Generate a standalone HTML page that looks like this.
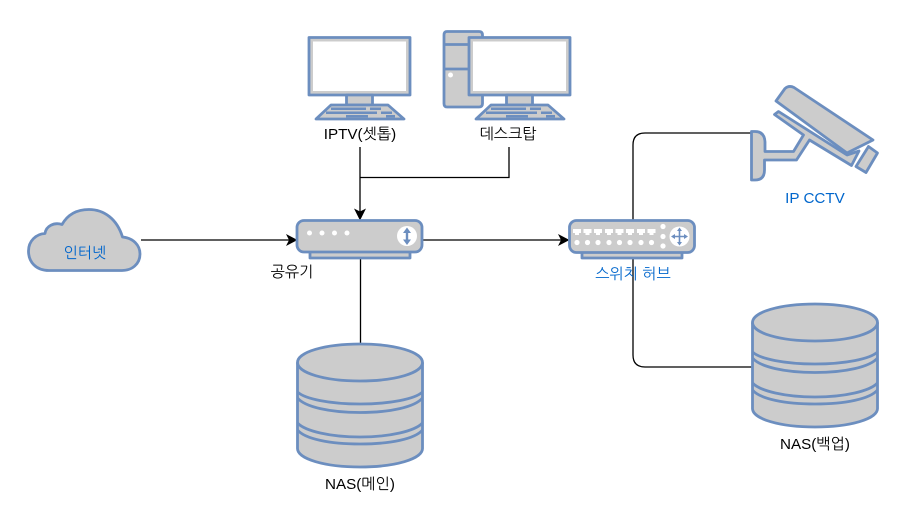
<!DOCTYPE html>
<html lang="ko"><head><meta charset="utf-8"><style>
html,body{margin:0;padding:0;background:#fff}
svg{display:block}
text{font-family:"Liberation Sans","NanumGothic","Noto Sans CJK KR",sans-serif;font-size:15.2px;text-anchor:middle;fill:#000}
.b{fill:#0066cc}
.s{fill:#ccc;stroke:#6c8ebf;stroke-width:2.8;stroke-linejoin:round}
.c{fill:none;stroke:#000;stroke-width:1.3}
.w{fill:#fff;stroke:none}
.k{fill:#6c8ebf;stroke:none}
.n{fill:none;stroke:#6c8ebf;stroke-width:2.8}
.a{fill:#000;stroke:none}
</style></head><body>
<svg width="915" height="521" viewBox="0 0 915 521" xmlns="http://www.w3.org/2000/svg">
<rect width="915" height="521" fill="#fff"/>
<path class="c" d="M141 240H290"/>
<path class="c" d="M422 240H563"/>
<path class="c" d="M360 147V214"/>
<path class="c" d="M509 147V177.500H360"/>
<path class="c" d="M360.500 258V345"/>
<path class="c" d="M633 220V145Q633 133 645 133H752"/>
<path class="c" d="M633 258V355Q633 367 645 367H752"/>
<path class="a" d="M297.500 240L286 234L289 240L286 246Z"/>
<path class="a" d="M569.500 240L558 234L561 240L558 246Z"/>
<path class="a" d="M360 220.500L354 208.500L360 211.500L366 208.500Z"/>

<!-- IPTV -->
<g id="pc1">
<rect class="s" x="309" y="37.500" width="101" height="57.500"/>
<rect class="w" x="313" y="41.500" width="93" height="49.500"/>
<rect class="s" x="346.500" y="95" width="26" height="10"/>
<path class="s" d="M331 105H388L404 119H316Z"/>
<path class="k" d="M331 107.500H366V110H331ZM370 107.500H381V110H370ZM326 111.500H377V114H326ZM381 111.500H392V114H381ZM346 115H368V117.500H346ZM386 115H395V117.500H386Z"/>
</g>

<!-- Desktop -->
<path class="s" d="M447 31.500H479Q482.500 31.500 482.500 35V103.500Q482.500 107 479 107H447Q444 107 444 103.500V35Q444 31.500 447 31.500Z"/>
<path class="n" d="M444 44.500H482M444 69H482"/>
<circle class="w" cx="450.500" cy="75" r="2.500"/>
<use href="#pc1" x="160"/>

<!-- Cloud -->
<path class="s" d="M49 270.500C36 270.500 28.500 262 28.500 251C28.500 241 36 234 45 233.500C46 226 54 222 62 224.500C68 214 77 209.500 89 209.500C104 209.500 117 219 122.500 237C133 238 140 245 140 254C140 264 132 270.500 122 270.500Z"/>

<!-- Router -->
<rect class="s" x="310" y="251" width="100" height="7"/>
<rect class="s" x="297" y="220.500" width="125" height="31.500" rx="7" ry="7"/>
<circle class="w" cx="309.500" cy="233" r="2.500"/><circle class="w" cx="322" cy="233" r="2.500"/><circle class="w" cx="334.500" cy="233" r="2.500"/><circle class="w" cx="347" cy="233" r="2.500"/>
<circle class="w" cx="407" cy="236" r="10"/>
<path class="k" d="M407 227.500L411 233H408.200V239.500H411L407 245L403 239.500H405.800V233H403Z"/>

<!-- Switch -->
<rect class="s" x="582" y="251" width="100" height="7"/>
<rect class="s" x="569.500" y="220.500" width="125" height="32" rx="7" ry="7"/>
<g class="w">
<path class="w" d="M573 229H581V233H579V235H575V233H573ZM583.500 229H591.500V233H589.500V235H585.500V233H583.500ZM594 229H602V233H600V235H596V233H594ZM605 229H613V233H611V235H607V233H605ZM615.500 229H623.500V233H621.500V235H617.500V233H615.500ZM626 229H634V233H632V235H628V233H626ZM637 229H645V233H643V235H639V233H637ZM647.500 229H655.500V233H653.500V235H649.500V233H647.500Z"/>
<circle cx="577" cy="242.500" r="2.600"/><circle cx="587.500" cy="242.500" r="2.600"/><circle cx="598" cy="242.500" r="2.600"/><circle cx="609" cy="242.500" r="2.600"/><circle cx="619.500" cy="242.500" r="2.600"/><circle cx="630" cy="242.500" r="2.600"/><circle cx="641" cy="242.500" r="2.600"/><circle cx="651.500" cy="242.500" r="2.600"/>
<circle cx="663" cy="226.500" r="2.600"/><circle cx="663" cy="236.500" r="2.600"/><circle cx="663" cy="246" r="2.600"/>
<circle cx="679.500" cy="236.500" r="10"/>
</g>
<path class="k" d="M679.500 227.500L682 231H680.300V235.700H684V234L688 236.500L684 239V237.300H680.300V242H682L679.500 245.500L677 242H678.700V237.300H675V239L671 236.500L675 234V235.700H678.700V231H677Z"/>

<!-- Camera -->
<path class="s" d="M776 101L785 88.500Q789 85 794 87.500L873 140L847 153Z"/>
<path class="s" d="M774.500 114.500L778.500 111.500L847 155L859 151L851.500 165.500L809.500 140L796.500 160H764.500V170Q764.500 180 755 180H751.500V131.500H755Q764.500 131.500 765 142V151.500H793.500L803.500 135Z"/>
<path class="s" d="M868.500 146.500L877.500 153L866 172.500L856 166.500Z"/>

<!-- NAS main -->
<g id="nas">
<path class="s" d="M297.500 362.500C297.500 352 325 344 360 344C395 344 422.500 352 422.500 362.500V448.500C422.500 459 395 467 360 467C325 467 297.500 459 297.500 448.500Z"/>
<path class="n" d="M297.500 362.500C297.500 373 325 381 360 381C395 381 422.500 373 422.500 362.500"/>
<path class="n" d="M297.500 392C305 399 330 404 360 404C390 404 415 399 422.500 392"/>
<path class="n" d="M297.500 398C305 407 330 412.500 360 412.500C390 412.500 415 407 422.500 398"/>
<path class="n" d="M297.500 423C305 431 330 437 360 437C390 437 415 431 422.500 423"/>
<path class="n" d="M297.500 430C305 439 330 444 360 444C390 444 415 439 422.500 430"/>
</g>
<use href="#nas" x="455" y="-40"/>

<!-- Labels -->
<text x="360" y="139">IPTV(셋톱)</text>
<text x="508" y="139">데스크탑</text>
<text x="85" y="258" class="b">인터넷</text>
<text x="292" y="277">공유기</text>
<text x="633" y="279" class="b">스위치 허브</text>
<text x="815" y="203" class="b">IP CCTV</text>
<text x="360" y="489">NAS(메인)</text>
<text x="815" y="449">NAS(백업)</text>
</svg>
</body></html>
